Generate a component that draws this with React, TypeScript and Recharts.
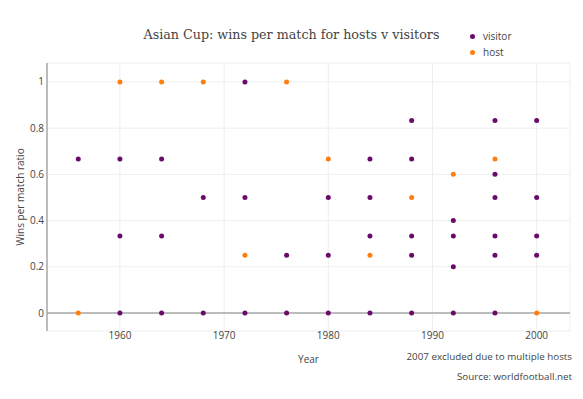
import { ScatterChart, Scatter, XAxis, YAxis, CartesianGrid, ReferenceLine } from 'recharts'

const visitorYears = [1956, 1960, 1960, 1960, 1964, 1964, 1964, 1968, 1968, 1972, 1972, 1972, 1976, 1976, 1980, 1980, 1980, 1984, 1984, 1984, 1984, 1988, 1988, 1988, 1988, 1988, 1992, 1992, 1992, 1992, 1996, 1996, 1996, 1996, 1996, 1996, 2000, 2000, 2000, 2000]
const visitorRatios = [0.667, 0.667, 0.333, 0, 0.667, 0.333, 0, 0.5, 0, 1, 0.5, 0, 0.25, 0, 0.5, 0.25, 0, 0.667, 0.5, 0.333, 0, 0.833, 0.667, 0.333, 0.25, 0, 0.4, 0.333, 0.2, 0, 0.833, 0.6, 0.5, 0.333, 0.25, 0, 0.833, 0.5, 0.333, 0.25]
const hostYears = [1956, 1960, 1964, 1968, 1972, 1976, 1980, 1984, 1988, 1992, 1996, 2000]
const hostRatios = [0, 1, 1, 1, 0.25, 1, 0.667, 0.25, 0.5, 0.6, 0.667, 0]
const yearTicks = [1960, 1970, 1980, 1990, 2000]
const ratioTicks = [0, 0.2, 0.4, 0.6, 0.8, 1]

const visitors = visitorYears.map((year, i) => ({ year, ratio: visitorRatios[i] }))
const hosts = hostYears.map((year, i) => ({ year, ratio: hostRatios[i] }))

const PURPLE = '#6a0a6b'
const ORANGE = '#ff7f0e'
const sans = '"Open Sans", sans-serif'
const tick = { fill: '#444', fontSize: 10, fontFamily: sans }

// small plotly-like markers
const dot = (color: string) => (p: any) => <circle cx={p.cx} cy={p.cy} r={2.5} fill={color} />

export default function App() {
  return (
    <div style={{ position: 'absolute', left: 0, top: 0, width: 583, height: 399, background: '#fff', fontFamily: sans, color: '#444' }}>
      <ScatterChart width={583} height={399} margin={{ top: 63, right: 13, bottom: 48, left: 17 }}>
        <CartesianGrid stroke="#eee" />
        <XAxis
          type="number" dataKey="year" domain={[1953, 2003.2]} ticks={yearTicks} allowDataOverflow
          axisLine={false} tickLine={false} tickSize={0} tickMargin={1} height={20} tick={tick}
          label={{ value: 'Year', position: 'bottom', offset: 5, style: { fill: '#444', fontSize: 10, fontFamily: sans } }}
        />
        <YAxis
          type="number" dataKey="ratio" domain={[-0.078, 1.082]} ticks={ratioTicks} allowDataOverflow
          axisLine={{ stroke: '#a8a8a8', strokeWidth: 1.5 }} tickLine={false} tickSize={0} tickMargin={3} width={30} tick={tick}
          tickFormatter={(v) => String(v)}
          label={{ value: 'Wins per match ratio', position: 'insideLeft', angle: -90, offset: 3, style: { fill: '#444', fontSize: 10, fontFamily: sans, textAnchor: 'middle' } }}
        />
        <ReferenceLine y={0} stroke="#a8a8a8" strokeWidth={1.5} />
        <Scatter name="visitor" data={visitors} fill={PURPLE} shape={dot(PURPLE)} isAnimationActive={false} />
        <Scatter name="host" data={hosts} fill={ORANGE} shape={dot(ORANGE)} isAnimationActive={false} />
      </ScatterChart>
      <div style={{ position: 'absolute', left: 0, width: 583, top: 25, textAlign: 'center', fontFamily: '"DejaVu Serif", serif', fontSize: 12.7, color: '#444', lineHeight: '20px' }}>
        Asian Cup: wins per match for hosts v visitors
      </div>
      <div style={{ position: 'absolute', left: 470, top: 28, fontSize: 10, lineHeight: '16px' }}>
        {[['visitor', PURPLE], ['host', ORANGE]].map(([name, color]) => (
          <div key={name} style={{ display: 'flex', alignItems: 'center' }}>
            <span style={{ width: 5, height: 5, borderRadius: 3, background: color, display: 'inline-block', marginRight: 8 }} />
            {name}
          </div>
        ))}
      </div>
      <div style={{ position: 'absolute', right: 11, top: 349, fontSize: 9.8, lineHeight: '16px', textAlign: 'right' }}>
        2007 excluded due to multiple hosts
      </div>
      <div style={{ position: 'absolute', right: 11, top: 369, fontSize: 9.8, lineHeight: '16px', textAlign: 'right' }}>
        Source: worldfootball.net
      </div>
    </div>
  )
}
